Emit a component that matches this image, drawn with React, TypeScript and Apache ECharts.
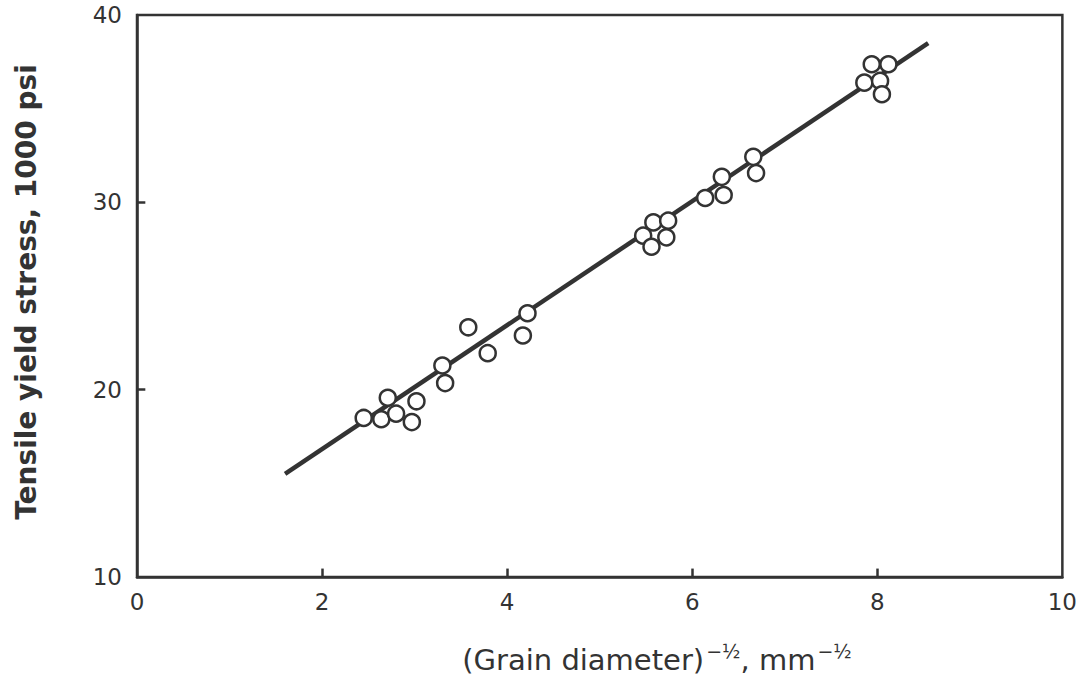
import React, { useEffect, useRef } from "react";
import * as echarts from "echarts";

const xTicks = [0, 2, 4, 6, 8, 10];
const yTicks = [10, 20, 30, 40];
const xInnerTicks = [2, 4, 6, 8];
const yInnerTicks = [20, 30];

const grainX = [
  2.45, 2.64, 2.71, 2.8, 2.97, 3.02, 3.3, 3.33, 3.58, 3.79, 4.17, 4.22,
  5.47, 5.56, 5.58, 5.74, 5.72, 6.14, 6.32, 6.34, 6.66, 6.69,
  7.86, 7.94, 8.03, 8.05, 8.12,
];
const stressY = [
  18.49, 18.42, 19.57, 18.72, 18.27, 19.38, 21.29, 20.35, 23.33, 21.95, 22.89, 24.08,
  28.22, 27.63, 28.93, 29.02, 28.13, 30.23, 31.36, 30.39, 32.43, 31.56,
  36.39, 37.37, 36.48, 35.77, 37.37,
];
const fitX = [1.6, 8.55];
const fitY = [15.5, 38.5];

const INK = "#333333";

export default function App() {
  const ref = useRef<HTMLDivElement>(null);
  useEffect(() => {
    if (!ref.current) return;
    const chart = echarts.init(ref.current, undefined, { renderer: "svg" });
    const font = "DejaVu Sans";
    const tickLenY = 0.45; // in y units (~8.5px)
    const tickLenX = 0.09; // in x units (~8.5px)
    const tickLines = [
      ...xInnerTicks.map((t) => [{ coord: [t, 10] }, { coord: [t, 10 + tickLenY] }]),
      ...yInnerTicks.map((t) => [{ coord: [0, t] }, { coord: [tickLenX, t] }]),
    ];
    chart.setOption({
      animation: false,
      backgroundColor: "#ffffff",
      grid: {
        left: 137,
        right: 13,
        top: 15,
        bottom: 123,
        show: true,
        borderColor: INK,
        borderWidth: 2.5,
        backgroundColor: "transparent",
      },
      xAxis: {
        type: "value",
        min: 0,
        max: 10,
        interval: 2,
        axisLine: { show: true, lineStyle: { color: INK, width: 2.5 } },
        axisTick: { show: false },
        splitLine: { show: false },
        axisLabel: {
          color: INK,
          fontFamily: font,
          fontSize: 23,
          margin: 13,
          formatter: (v: number) => (xTicks.includes(v) ? String(v) : ""),
        },
      },
      yAxis: {
        type: "value",
        min: 10,
        max: 40,
        interval: 10,
        axisLine: { show: true, lineStyle: { color: INK, width: 2.5 } },
        axisTick: { show: false },
        splitLine: { show: false },
        axisLabel: {
          color: INK,
          fontFamily: font,
          fontSize: 23,
          margin: 15,
          formatter: (v: number) => (yTicks.includes(v) ? String(v) : ""),
        },
      },
      graphic: [
        {
          type: "text",
          x: 26,
          y: 292,
          rotation: Math.PI / 2,
          style: {
            text: "Tensile yield stress, 1000 psi",
            fill: INK,
            fontFamily: font,
            fontSize: 28,
            fontWeight: "bold",
            align: "center",
            verticalAlign: "middle",
          },
        },
        {
          type: "text",
          x: 657,
          y: 660,
          style: {
            text: "(Grain diameter){s|−½}, mm{s|−½}",
            fill: INK,
            fontFamily: font,
            fontSize: 29,
            align: "center",
            verticalAlign: "middle",
            rich: {
              s: { fontSize: 19, fontFamily: font, fill: INK, padding: [0, 0, 19, 2] },
            },
          },
        },
      ],
      series: [
        {
          type: "line",
          data: fitX.map((x, i) => [x, fitY[i]]),
          showSymbol: false,
          symbol: "none",
          lineStyle: { color: INK, width: 4.5 },
          z: 2,
          markLine: {
            silent: true,
            symbol: "none",
            label: { show: false },
            lineStyle: { color: INK, width: 2.5, type: "solid" },
            data: tickLines,
          },
        },
        {
          type: "scatter",
          data: grainX.map((x, i) => [x, stressY[i]]),
          symbol: "circle",
          symbolSize: 16,
          itemStyle: { color: "#ffffff", opacity: 1, borderColor: INK, borderWidth: 2.5 },
          z: 3,
        },
      ],
    });
    return () => chart.dispose();
  }, []);
  return (
    <div
      ref={ref}
      style={{ position: "absolute", left: 0, top: 0, width: 1080, height: 700 }}
    />
  );
}
